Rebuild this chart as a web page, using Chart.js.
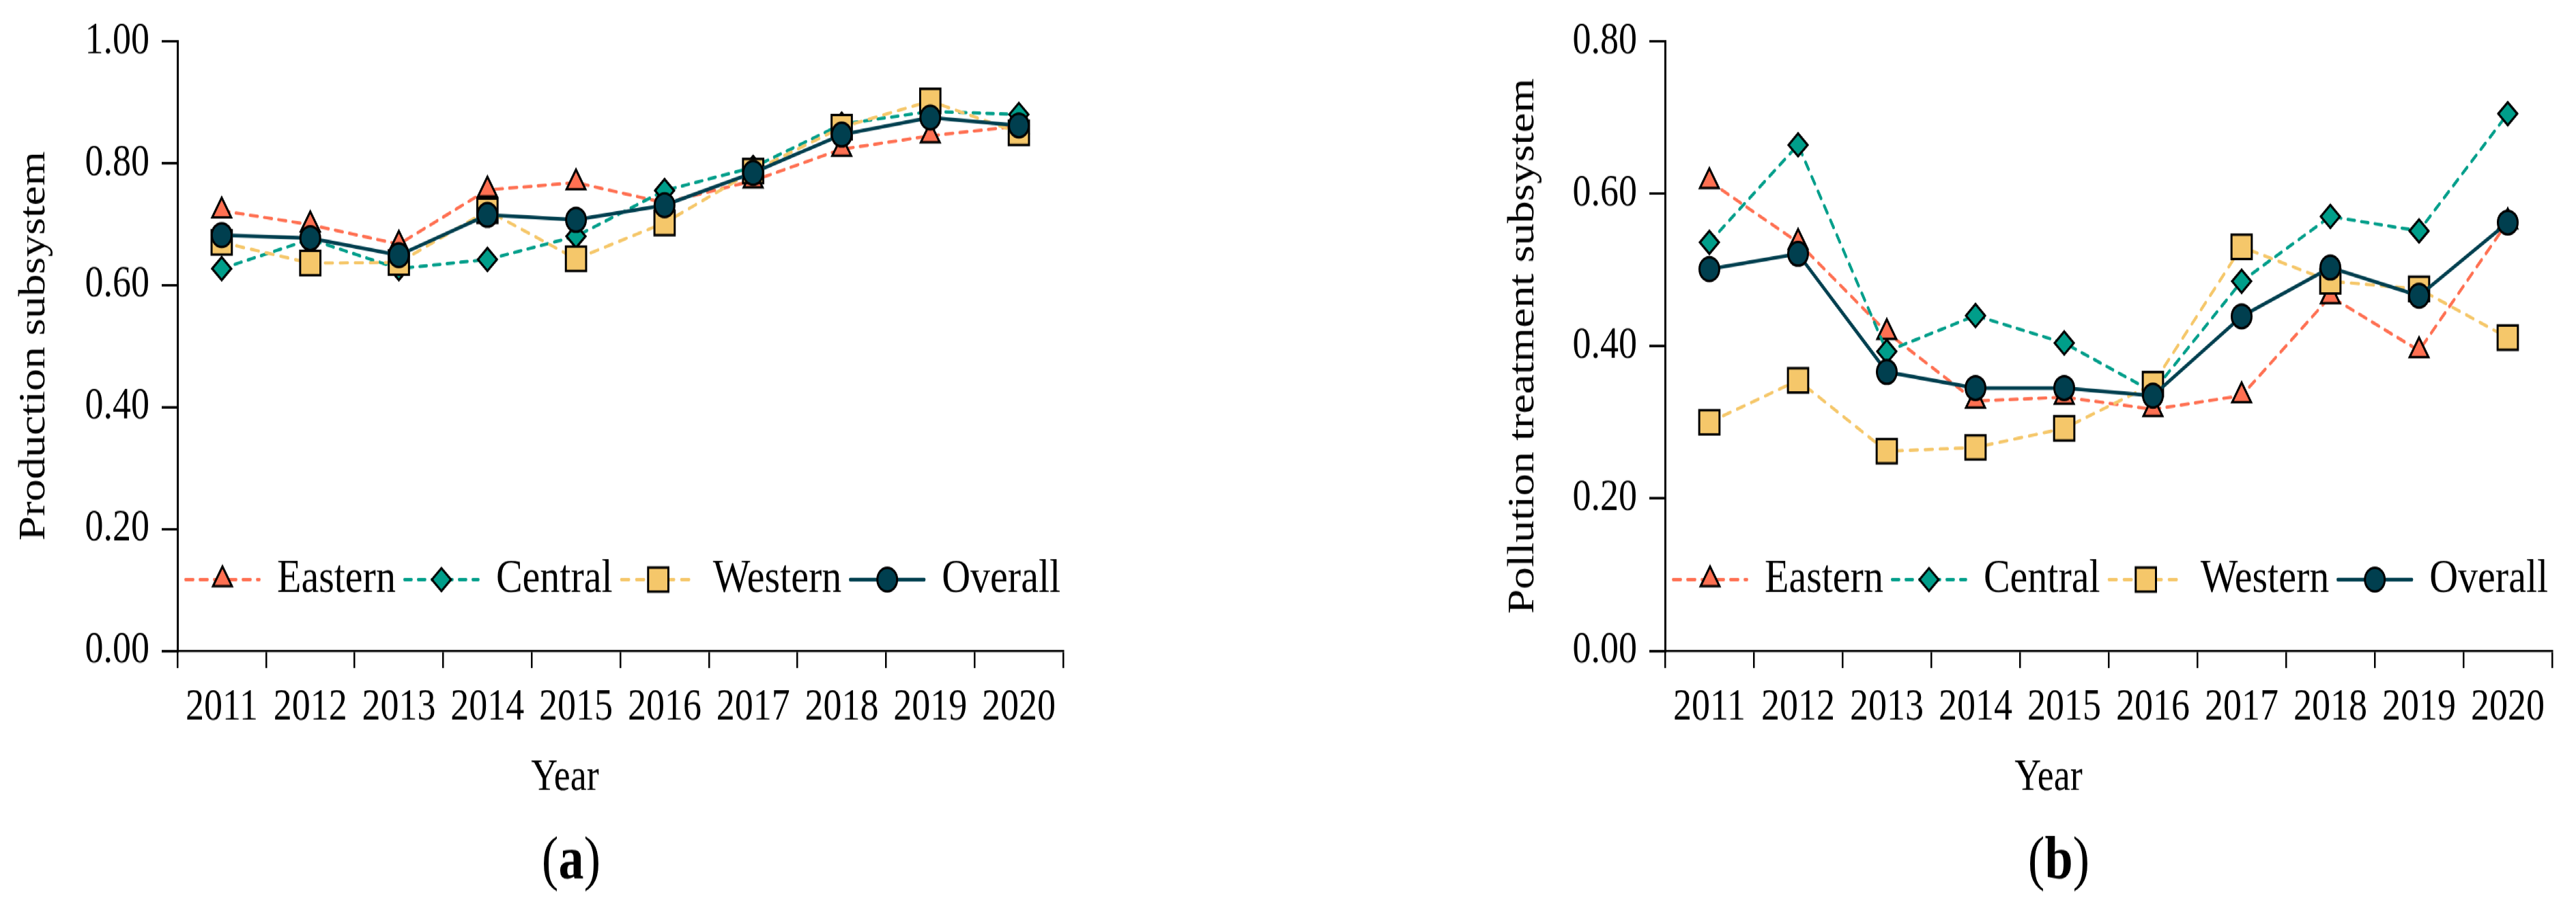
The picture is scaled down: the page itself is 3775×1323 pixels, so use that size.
<!DOCTYPE html>
<html>
<head>
<meta charset="utf-8">
<script src="https://cdn.jsdelivr.net/npm/chart.js@4.4.1/dist/chart.umd.min.js"></script>
<style>
  html { margin: 0; padding: 0; overflow: hidden; background: #fff; }
  body { margin: 0; padding: 0; width: 3775px; height: 1323px; background: #fff; }
  #stage { position: relative; width: 3775px; height: 1103px; transform: scaleY(1.19946); transform-origin: 0 0; }
  #stage canvas { position: absolute; top: 0; }
  #chartA { left: 0; }
  #chartB { left: 2190px; }
</style>
</head>
<body>
<div id="stage">
  <canvas id="chartA" width="1660" height="1103"></canvas>
  <canvas id="chartB" width="1585" height="1103"></canvas>
</div>
<script>
const years = ['2011', '2012', '2013', '2014', '2015', '2016', '2017', '2018', '2019', '2020'];
const seriesNames = ['Eastern', 'Central', 'Western', 'Overall'];

// (a) production subsystem
const prodEastern = [0.722, 0.699, 0.667, 0.756, 0.768, 0.735, 0.771, 0.823, 0.845, 0.861];
const prodCentral = [0.627, 0.675, 0.627, 0.642, 0.680, 0.755, 0.793, 0.864, 0.885, 0.880];
const prodWestern = [0.670, 0.636, 0.637, 0.722, 0.643, 0.702, 0.787, 0.859, 0.902, 0.850];
const prodOverall = [0.682, 0.677, 0.649, 0.715, 0.707, 0.731, 0.784, 0.847, 0.875, 0.862];

// (b) pollution treatment subsystem
const pollEastern = [0.616, 0.536, 0.418, 0.328, 0.333, 0.317, 0.335, 0.465, 0.394, 0.563];
const pollCentral = [0.536, 0.664, 0.393, 0.440, 0.404, 0.340, 0.485, 0.570, 0.551, 0.705];
const pollWestern = [0.300, 0.355, 0.262, 0.267, 0.292, 0.350, 0.530, 0.485, 0.475, 0.411];
const pollOverall = [0.501, 0.521, 0.366, 0.345, 0.345, 0.335, 0.439, 0.503, 0.466, 0.562];

const prodTicks = [0, 0.2, 0.4, 0.6, 0.8, 1.0];
const pollTicks = [0, 0.2, 0.4, 0.6, 0.8];

// styles
const colors = ['#FF7052', '#009E8A', '#F5C76A', '#003F4F'];
const markers = ['triangle', 'rectRot', 'rect', 'circle'];
const markerSize = [16, 14, 21, 14.5];
const dashes = [[11, 10], [10, 10], [11, 11], []];
const SERIF = '"Liberation Serif", "Times New Roman", serif';

Chart.defaults.font.family = SERIF;
Chart.defaults.color = '#000';

function makeDatasets(values) {
  return seriesNames.map((name, i) => ({
    label: name,
    data: values[i],
    borderColor: colors[i],
    backgroundColor: colors[i],
    borderWidth: i === 3 ? 4.5 : 4,
    borderDash: dashes[i],
    borderCapStyle: 'round',
    pointStyle: markers[i],
    pointRadius: markerSize[i],
    pointBackgroundColor: colors[i],
    pointBorderColor: '#000',
    pointBorderWidth: 3,
    tension: 0,
    order: 4 - i
  }));
}

// legend drawn as line sample + marker, sitting inside the plot
const lineLegend = {
  id: 'lineLegend',
  afterDraw(chart) {
    const ctx = chart.ctx;
    const area = chart.chartArea;
    const sampleWidth = 108, textGap = 26, itemGap = 13;
    let x = area.left + 12;
    const y = area.bottom - 87;
    ctx.save();
    ctx.font = '58px ' + SERIF;
    ctx.textBaseline = 'middle';
    ctx.textAlign = 'left';
    chart.data.datasets.forEach(ds => {
      ctx.save();
      ctx.strokeStyle = ds.borderColor;
      ctx.lineWidth = ds.borderWidth;
      ctx.lineCap = 'round';
      ctx.setLineDash(ds.borderDash);
      ctx.beginPath();
      ctx.moveTo(x, y);
      ctx.lineTo(x + sampleWidth, y);
      ctx.stroke();
      ctx.restore();
      ctx.save();
      ctx.fillStyle = ds.pointBackgroundColor;
      ctx.strokeStyle = ds.pointBorderColor;
      ctx.lineWidth = ds.pointBorderWidth;
      Chart.helpers.drawPoint(ctx, {
        pointStyle: ds.pointStyle, radius: ds.pointRadius, rotation: 0, borderWidth: ds.pointBorderWidth
      }, x + sampleWidth / 2, y);
      ctx.restore();
      ctx.fillStyle = '#000';
      ctx.fillText(ds.label, x + sampleWidth + textGap, y);
      x += sampleWidth + textGap + ctx.measureText(ds.label).width + itemGap;
    });
    ctx.restore();
  }
};

// "Year" and the panel letter, e.g. "(a)" with a bold letter
function panelText(yearX, letter, letterX) {
  return {
    id: 'panelText',
    afterDraw(chart) {
      const ctx = chart.ctx;
      ctx.save();
      ctx.fillStyle = '#000';
      ctx.textBaseline = 'alphabetic';
      ctx.textAlign = 'center';
      ctx.font = '54px ' + SERIF;
      ctx.fillText('Year', yearX, 965);

      const parts = [['(', '74px ' + SERIF], [letter, 'bold 74px ' + SERIF], [')', '74px ' + SERIF]];
      let total = 0;
      parts.forEach(p => { ctx.font = p[1]; total += ctx.measureText(p[0]).width; });
      let x = letterX - total / 2;
      ctx.textAlign = 'left';
      parts.forEach(p => {
        ctx.font = p[1];
        ctx.fillText(p[0], x, 1073);
        x += ctx.measureText(p[0]).width;
      });
      ctx.restore();
    }
  };
}

function buildChart(id, values, yTicks, yTitle, cfg) {
  const yMax = yTicks[yTicks.length - 1];
  return new Chart(document.getElementById(id), {
    type: 'line',
    data: { labels: years, datasets: makeDatasets(values) },
    plugins: [lineLegend, panelText(cfg.yearX, cfg.letter, cfg.letterX)],
    options: {
      responsive: false,
      animation: false,
      events: [],
      layout: { padding: { top: 49, right: cfg.padRight, left: 0, bottom: 0 } },
      scales: {
        x: {
          type: 'category',
          offset: true,
          grid: {
            display: true, offset: true, drawOnChartArea: false, drawTicks: true,
            tickLength: 21, tickWidth: 2.5, tickColor: '#000', lineWidth: 2.5, color: '#000'
          },
          border: { display: true, color: '#000', width: 2.5 },
          ticks: { font: { size: 54 }, color: '#000', padding: 16, maxRotation: 0, autoSkip: false },
          afterFit(scale) { scale.height = 1103 - 795; }
        },
        y: {
          min: 0,
          max: yMax,
          afterBuildTicks(scale) { scale.ticks = yTicks.map(v => ({ value: v })); },
          grid: {
            display: true, drawOnChartArea: false, drawTicks: true,
            tickLength: 23, tickWidth: 3, tickColor: '#000', lineWidth: 3, color: '#000'
          },
          border: { display: true, color: '#000', width: 3 },
          ticks: {
            font: { size: 54 }, color: '#000', padding: 18,
            callback: v => Number(v).toFixed(2)
          },
          title: {
            display: true, text: yTitle, color: '#000',
            font: { size: 54 }, padding: { top: cfg.titlePad, bottom: 0 }
          },
          afterFit(scale) { scale.width = cfg.yWidth; }
        }
      },
      plugins: {
        legend: { display: false },
        tooltip: { enabled: false }
      }
    }
  });
}

buildChart('chartA', [prodEastern, prodCentral, prodWestern, prodOverall], prodTicks, 'Production subsystem',
  { padRight: 102, yWidth: 260, titlePad: 18, yearX: 828, letter: 'a', letterX: 837 });

buildChart('chartB', [pollEastern, pollCentral, pollWestern, pollOverall], pollTicks, 'Pollution treatment subsystem',
  { padRight: 35, yWidth: 250, titlePad: 10, yearX: 3002 - 2190, letter: 'b', letterX: 3017 - 2190 });
</script>
</body>
</html>
